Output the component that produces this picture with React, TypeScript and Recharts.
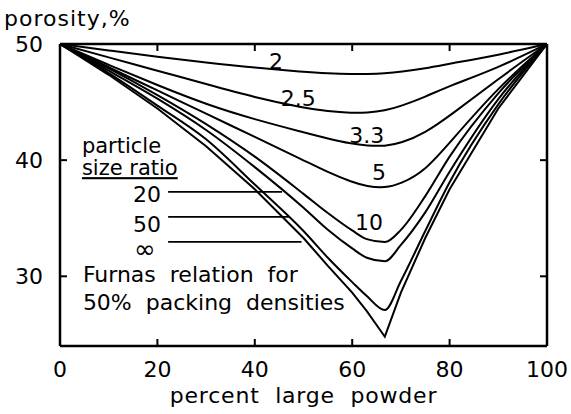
import { LineChart, Line, XAxis, YAxis, ReferenceLine, ReferenceDot } from "recharts"

// percent large powder
const xs = [0, 10, 20, 30, 40, 50, 55, 60, 63, 66.7, 70, 75, 80, 90, 100]
// porosity, % for each particle size ratio
const ratio2 = [50, 49.45, 48.9, 48.4, 47.95, 47.6, 47.47, 47.4, 47.42, 47.48, 47.6, 47.9, 48.3, 49.05, 50]
const ratio2_5 = [50, 48.85, 47.7, 46.55, 45.4, 44.5, 44.2, 44.05, 44.08, 44.25, 44.65, 45.45, 46.4, 47.95, 50]
const ratio3_3 = [50, 48.2, 46.45, 44.8, 43.5, 42.4, 41.85, 41.4, 41.25, 41.2, 41.45, 42.35, 43.8, 47.0, 50]
const ratio5 = [50, 48.0, 46.0, 44.0, 42.0, 40.0, 38.95, 38.1, 37.75, 37.6, 37.95, 39.1, 41.5, 46.3, 50]
const ratio10 = [50, 47.9, 45.6, 43.1, 40.3, 37.1, 35.45, 33.95, 33.2, 32.95, 34.0, 36.9, 40.3, 45.75, 50]
const ratio20 = [50, 47.7, 45.3, 42.6, 39.4, 35.9, 34.0, 32.4, 31.6, 31.3, 32.7, 35.5, 39.0, 45.25, 50]
const ratio50 = [50, 47.5, 44.7, 41.8, 37.9, 33.9, 31.6, 29.5, 28.3, 27.1, 29.6, 33.9, 38.1, 44.8, 50]
const ratioInf = [50, 47.35, 44.45, 41.2, 37.5, 33.3, 30.9, 28.6, 27.0, 24.8, 28.6, 33.3, 37.5, 44.45, 50]

const xTicks = [0, 20, 40, 60, 80, 100]
const topTicks = [20, 40, 60, 80]
const yTicks = [30, 40, 50]
const rightTicks = [30, 40]

const xDomain = [0, 100]
const yDomain = [24, 50]

const series = [
  { key: "r2", values: ratio2, curve: "basis" },
  { key: "r2_5", values: ratio2_5, curve: "basis" },
  { key: "r3_3", values: ratio3_3, curve: "basis" },
  { key: "r5", values: ratio5, curve: "basis" },
  { key: "r10", values: ratio10, curve: "monotone" },
  { key: "r20", values: ratio20, curve: "monotone" },
  { key: "r50", values: ratio50, curve: "monotone" },
  { key: "rInf", values: ratioInf, curve: "linear" },
]

const data = xs.map((x, i) => {
  const row: Record<string, number> = { x }
  series.forEach((s) => (row[s.key] = s.values[i]))
  return row
})

// annotations, in data coordinates
const notes = [
  { text: "2", x: 44.35, y: 47.84, anchor: "middle" },
  { text: "2.5", x: 48.9, y: 44.66, anchor: "middle" },
  { text: "3.3", x: 63.0, y: 41.47, anchor: "middle" },
  { text: "5", x: 65.5, y: 38.28, anchor: "middle" },
  { text: "10", x: 63.45, y: 33.97, anchor: "middle" },
  { text: "particle", x: 4.5, y: 40.6, anchor: "start", size: 21 },
  { text: "size ratio", x: 4.5, y: 38.71, anchor: "start", size: 21, underline: true },
  { text: "20", x: 15.0, y: 36.38, anchor: "start" },
  { text: "50", x: 15.0, y: 33.85, anchor: "start" },
  { text: "∞", x: 15.2, y: 31.6, anchor: "start", size: 26 },
  { text: "Furnas  relation  for", x: 4.7, y: 29.48, anchor: "start" },
  { text: "50%  packing  densities", x: 4.7, y: 27.07, anchor: "start" },
]

const pointers = [
  { x1: 22.2, x2: 45.6, y: 37.27 },
  { x1: 22.2, x2: 47.2, y: 35.11 },
  { x1: 22.2, x2: 49.6, y: 32.96 },
]

// plot box in page pixels
const W = 571
const H = 414
const plot = { left: 60, top: 44, right: 547, bottom: 346 }

const px = (v: number) => plot.left + ((v - xDomain[0]) / (xDomain[1] - xDomain[0])) * (plot.right - plot.left)
const py = (v: number) => plot.bottom - ((v - yDomain[0]) / (yDomain[1] - yDomain[0])) * (plot.bottom - plot.top)

const frame = { stroke: "#000", strokeWidth: 2.5 }
const tickLine = { stroke: "#000", strokeWidth: 2 }
const tickText = { fill: "#000", fontSize: 22 }

function FrameOverlay() {
  return (
    <svg
      width={W}
      height={H}
      style={{ position: "absolute", left: 0, top: 0, pointerEvents: "none" }}
    >
      <line x1={plot.left} y1={plot.top} x2={plot.right} y2={plot.top} stroke="#000" strokeWidth={2.5} />
      <line x1={plot.right} y1={plot.top} x2={plot.right} y2={plot.bottom} stroke="#000" strokeWidth={2.5} />
      {topTicks.map((t) => (
        <line key={t} x1={px(t)} y1={plot.top} x2={px(t)} y2={plot.top + 7} stroke="#000" strokeWidth={2} />
      ))}
      {rightTicks.map((t) => (
        <line key={t} x1={plot.right} y1={py(t)} x2={plot.right - 7} y2={py(t)} stroke="#000" strokeWidth={2} />
      ))}
    </svg>
  )
}

export default function App() {
  return (
    <div style={{ position: "absolute", left: 0, top: 0, width: W, height: H, fontFamily: "DejaVu Sans", background: "#fff" }}>
      <LineChart
        width={W}
        height={H}
        data={data}
        margin={{ top: plot.top, right: W - plot.right, bottom: 0, left: 0 }}
      >
        <XAxis
          xAxisId="b"
          dataKey="x"
          type="number"
          domain={xDomain}
          ticks={xTicks}
          height={H - plot.bottom}
          axisLine={frame}
          tickLine={tickLine}
          tickSize={-7}
          tickMargin={22}
          tick={tickText}
          label={{
            content: (p: any) => {
              const vb = p.viewBox
              return (
                <text
                  x={vb.x + vb.width / 2}
                  y={vb.y + vb.height - 11}
                  textAnchor="middle"
                  fontSize={22}
                  fill="#000"
                  letterSpacing={0.8}
                  style={{ whiteSpace: "pre" }}
                >
                  percent  large  powder
                </text>
              )
            },
          }}
        />
        <YAxis
          yAxisId="l"
          type="number"
          domain={yDomain}
          ticks={yTicks}
          width={plot.left}
          axisLine={frame}
          tickLine={tickLine}
          tickSize={-7}
          tickMargin={24}
          tick={tickText}
          label={{
            content: () => (
              <text x={4} y={26} fontSize={22} fill="#000" letterSpacing={1}>
                porosity,%
              </text>
            ),
          }}
        />
        {series.map((s) => (
          <Line
            key={s.key}
            xAxisId="b"
            yAxisId="l"
            dataKey={s.key}
            type={s.curve as any}
            stroke="#000"
            strokeWidth={2}
            dot={false}
            isAnimationActive={false}
          />
        ))}
        {pointers.map((p, i) => (
          <ReferenceLine
            key={`p-${i}`}
            xAxisId="b"
            yAxisId="l"
            segment={[
              { x: p.x1, y: p.y },
              { x: p.x2, y: p.y },
            ]}
            stroke="#000"
            strokeWidth={1.8}
          />
        ))}
        {notes.map((n, i) => (
          <ReferenceDot
            key={`n-${i}`}
            xAxisId="b"
            yAxisId="l"
            x={n.x}
            y={n.y}
            r={0}
            ifOverflow="visible"
            shape={(p: any) => (
              <text
                x={p.cx}
                y={p.cy}
                textAnchor={n.anchor}
                fontSize={n.size || 22}
                fill="#000"
                textDecoration={n.underline ? "underline" : undefined}
                style={{ whiteSpace: "pre" }}
              >
                {n.text}
              </text>
            )}
          />
        ))}
      </LineChart>
      <FrameOverlay />
    </div>
  )
}
